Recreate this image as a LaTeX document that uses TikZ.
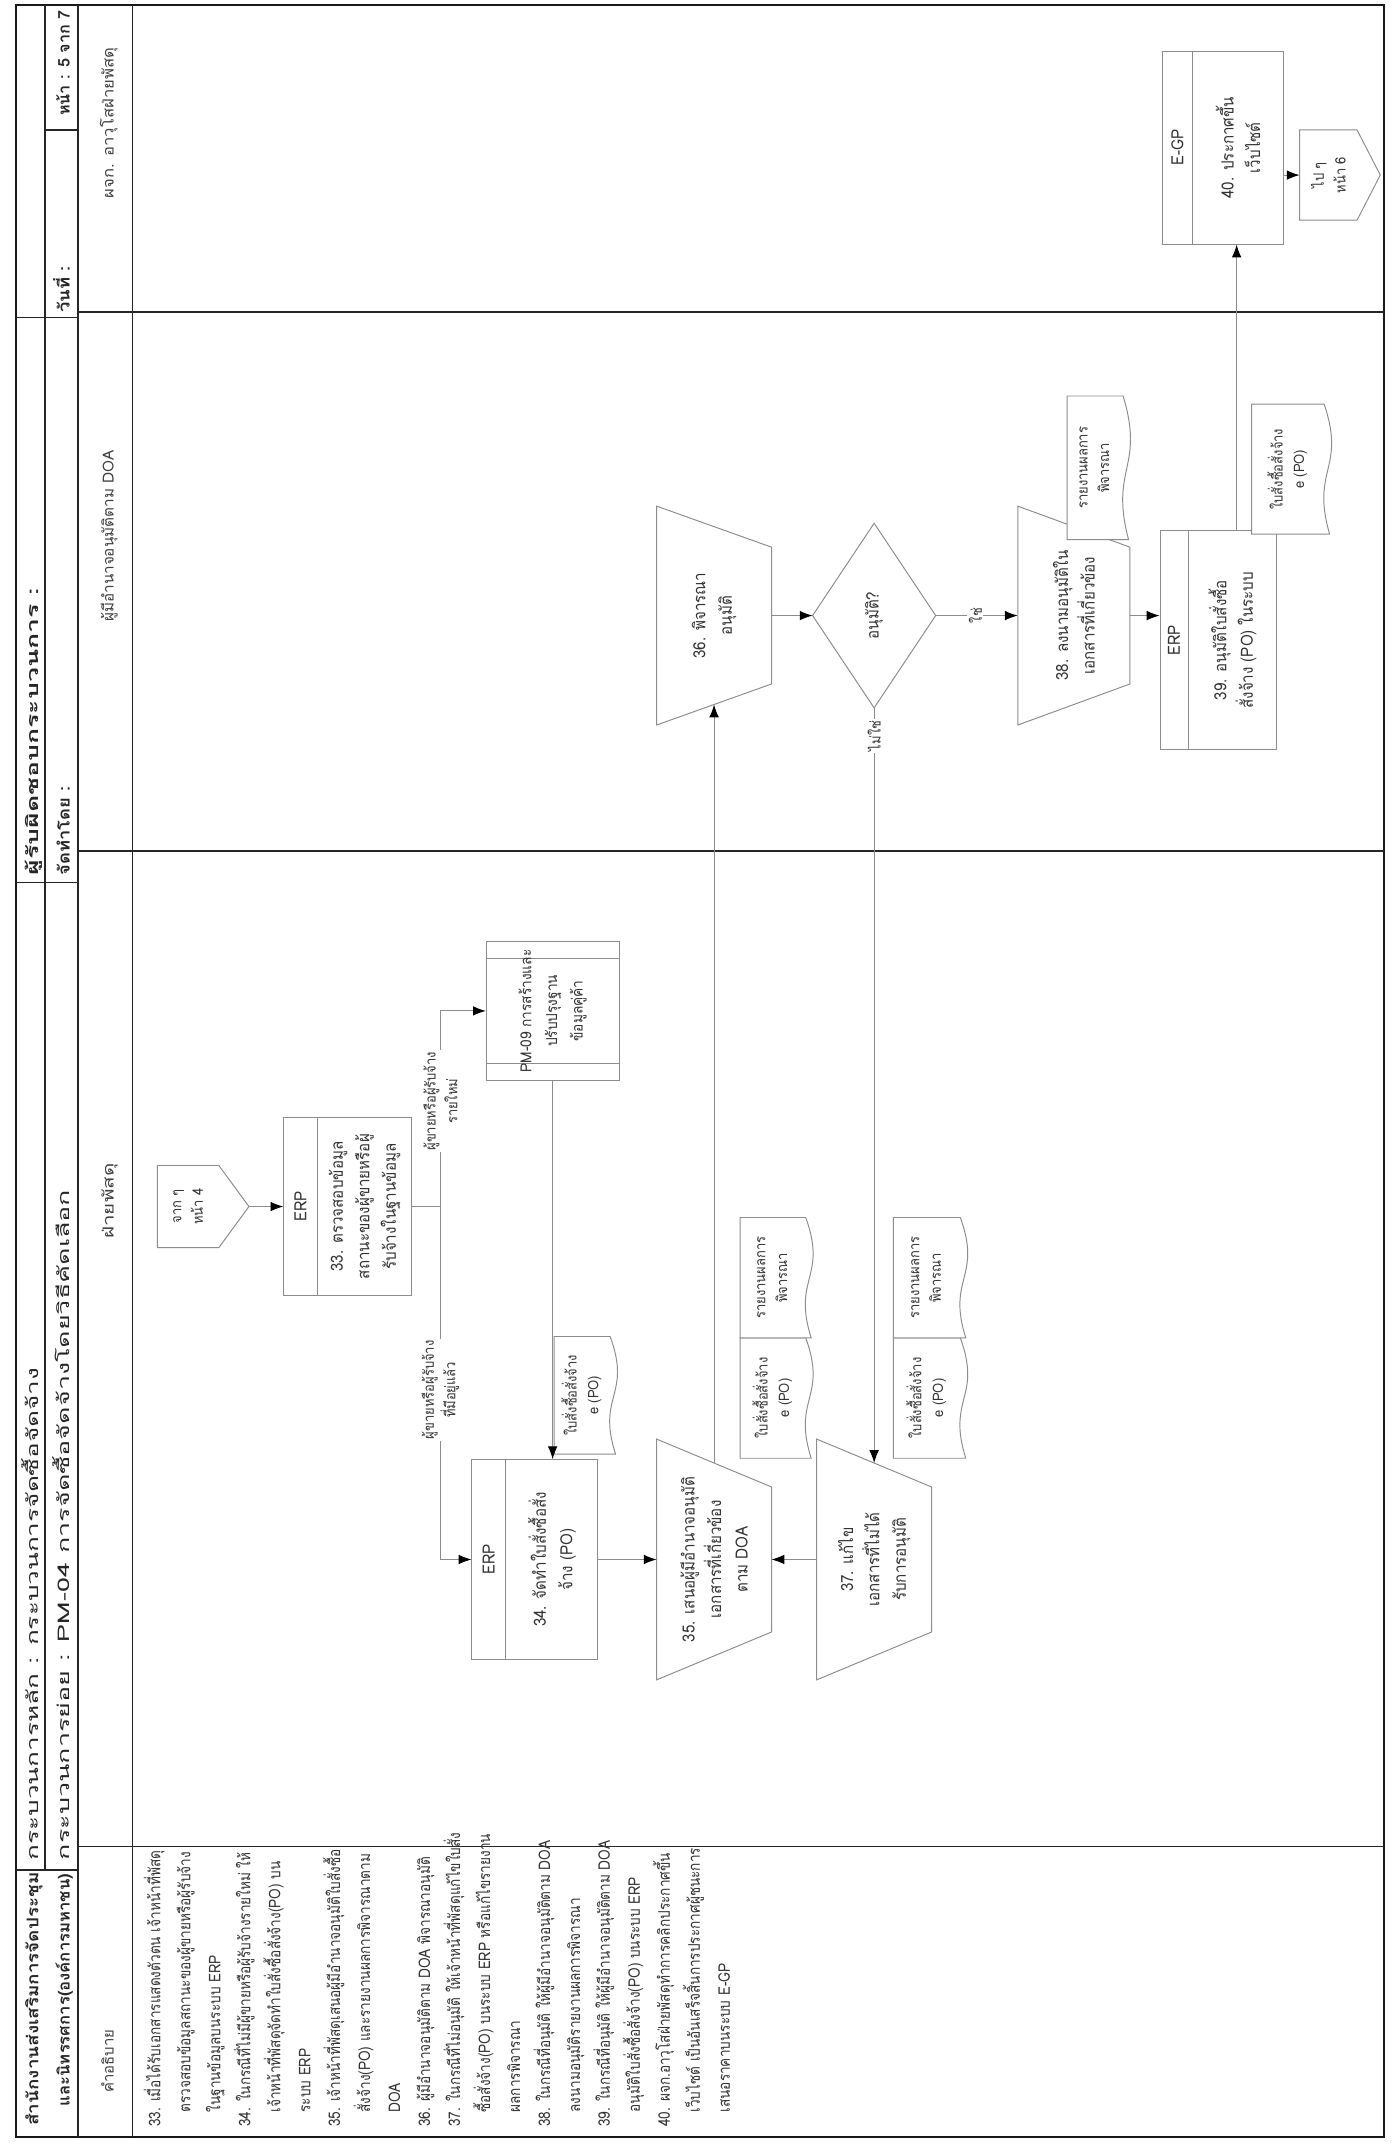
\documentclass[tikz,border=0pt]{standalone}
\usepackage{fontspec}
\setmainfont{Loma}[Script=Thai]
\newfontfamily\hdrfont{Loma}[Script=Thai]
\newfontfamily\flowfont{Loma}[Script=Thai, FakeStretch=0.9]
\newfontfamily\descfont{Loma}[Script=Thai, FakeStretch=0.85]
\usetikzlibrary{calc,arrows.meta}

% drawing unit
\newlength\ulen
\setlength\ulen{0.3mm}
% set a text to a given width (in drawing units), keeping its height
\newcommand\fitw[2]{\resizebox{#1\ulen}{\height}{#2}}

% process step with a system band on top: name, x, y, width, height, band, band label, text
\newcommand\stepbox[8]{%
  \node[shapeline, fill=white, inner sep=0pt, minimum width=#4\ulen, minimum height=#5\ulen] (#1) at (#2,#3) {};
  \draw[shapeline] ($(#1.north west)+(0,-#6)$) -- ($(#1.north east)+(0,-#6)$);
  \node[txt] at ($(#1.north)+(0,-#6/2)$) {#7};
  \node[txt] at ($(#1.center)+(0,-#6/2)$) {#8};
}
% manual operation, wide edge on top: name, x, y, top width, bottom width, height, text
\newcommand\manualop[7]{%
  \node[holder, minimum width=#4\ulen, minimum height=#6\ulen] (#1) at (#2,#3) {};
  \draw[shapeline] (#1.north west) -- (#1.north east)
     -- ($(#1.south east)+({-(#4-#5)/2},0)$) -- ($(#1.south west)+({(#4-#5)/2},0)$) -- cycle;
  \coordinate (#1-r) at ($(#1.east)+({-(#4-#5)/4},0)$);
  \coordinate (#1-l) at ($(#1.west)+({(#4-#5)/4},0)$);
  \node[txt] at (#1) {#7};
}
% document with a wavy lower edge: name, x, y, width, height, text
\newcommand\docshape[6]{%
  \node[holder, minimum width=#4\ulen, minimum height=#5\ulen] (#1) at (#2,#3) {};
  \draw[shapeline, fill=white] (#1.north west) -- (#1.north east) -- ($(#1.south east)+(0,7)$)
     .. controls ($(#1.south east)+({-#4/2},-9)$) and ($(#1.south west)+({#4/2},17)$) .. ($(#1.south west)+(0,3)$) -- cycle;
  \node[doctxt] at ($(#1.center)+(0,4)$) {#6};
}
% off-page connector pointing down: name, x, y, width, height, point depth, text
\newcommand\offpage[7]{%
  \node[holder, minimum width=#4\ulen, minimum height=#5\ulen] (#1) at (#2,#3) {};
  \draw[shapeline, fill=white] (#1.north west) -- (#1.north east) -- ($(#1.south east)+(0,#6)$)
     -- (#1.south) -- ($(#1.south west)+(0,#6)$) -- cycle;
  \node[doctxt] at ($(#1.center)+(0,#6/2)$) {#7};
}

\begin{document}
\begin{tikzpicture}[x=0.3mm, y=0.3mm,
  frameline/.style={draw=black!90, line width=1.2pt},
  cellline/.style={draw=black!85, line width=0.9pt},
  shapeline/.style={draw=black!45, line width=0.6pt},
  holder/.style={draw=none, inner sep=0pt, outer sep=0pt},
  txt/.style={font=\flowfont\fontsize{10.5}{16.5}\selectfont, align=center, inner sep=0pt, text=black!80},
  doctxt/.style={font=\flowfont\fontsize{9}{13.5}\selectfont, align=center, inner sep=0pt, text=black!80},
  conn/.style={draw=black!45, line width=0.6pt, -{Latex[length=8pt, width=6pt, black]}},
  wire/.style={draw=black!45, line width=0.6pt},
  flowlabel/.style={doctxt, fill=white, inner sep=1pt},
  hdr/.style={font=\hdrfont\fontsize{10}{11}\selectfont, anchor=base west, inner sep=0pt, text=black!85},
  lanetitle/.style={font=\fontsize{9.5}{11}\selectfont, anchor=base, inner sep=0pt, text=black!75},
  desc/.style={font=\descfont\fontsize{10}{18.7}\selectfont, align=left, anchor=north west, inner sep=0pt, text=black!80},
]
% the sheet is laid out in landscape and turned a quarter turn
\begin{scope}[rotate=90, transform shape]
\useasboundingbox (0,0) rectangle (1568,1017);
\fill[white] (0,0) rectangle (1568,1017);

% ---------- form frame and header ----------
\draw[frameline] (6,5) rectangle (1564,1005);
\draw[cellline] (6,960) -- (1564,960);
\draw[cellline] (6,920) -- (1564,920);
\draw[cellline] (201,984) -- (1564,984);
\foreach \x in {201,923,1336} \draw[cellline] (\x,960) -- (\x,1005);
\draw[cellline] (1473,960) -- (1473,984);
\foreach \x in {218,946,1340} \draw[cellline] (\x,5) -- (\x,960);

\node[hdr] (h1) at (14,989) {\fitw{185}{\bfseries สำนักงานส่งเสริมการจัดประชุม}};
\node[hdr] (h2) at (28,966) {\fitw{170}{\bfseries และนิทรรศการ(องค์การมหาชน)}};
\node[hdr] (h3) at (208,989) {\fitw{360}{กระบวนการหลัก : กระบวนการจัดซื้อจัดจ้าง}};
\node[hdr] (h4) at (208,966) {\fitw{490}{กระบวนการย่อย : PM-04 การจัดซื้อจัดจ้างโดยวิธีคัดเลือก}};
\node[hdr] (h5) at (928,989) {\fitw{210}{\bfseries ผู้รับผิดชอบกระบวนการ :}};
\node[hdr] (h6) at (928,966) {\fitw{65}{\bfseries จัดทำโดย :}};
\node[hdr] (h7) at (1339,966) {\fitw{34}{\bfseries วันที่ :}};
\node[hdr] (h8) at (1483,966) {\fitw{77}{\bfseries หน้า : 5 จาก 7}};

% lane titles
\node[lanetitle, anchor=base west] (l0) at (38,934) {\fitw{46}{คำอธิบาย}};
\node[lanetitle] (l1) at (690,934) {\fitw{55}{ฝ่ายพัสดุ}};
\node[lanetitle] (l2) at (1176,934) {\fitw{125}{ผู้มีอำนาจอนุมัติตาม DOA}};
\node[lanetitle] (l3) at (1478,934) {\fitw{110}{ผจก. อาวุโสฝ่ายพัสดุ}};

% ---------- description column ----------
\node[desc] (desc) at (13,912) {%
33. เมื่อได้รับเอกสารแสดงตัวตน เจ้าหน้าที่พัสดุ\\
\hspace*{9pt}ตรวจสอบข้อมูลสถานะของผู้ขายหรือผู้รับจ้าง\\
\hspace*{9pt}ในฐานข้อมูลบนระบบ ERP\\
34. ในกรณีที่ไม่มีผู้ขายหรือผู้รับจ้างรายใหม่ ให้\\
\hspace*{9pt}เจ้าหน้าที่พัสดุจัดทำใบสั่งซื้อสั่งจ้าง(PO) บน\\
\hspace*{9pt}ระบบ ERP\\
35. เจ้าหน้าที่พัสดุเสนอผู้มีอำนาจอนุมัติใบสั่งซื้อ\\
\hspace*{9pt}สั่งจ้าง(PO) และรายงานผลการพิจารณาตาม\\
\hspace*{9pt}DOA\\
36. ผู้มีอำนาจอนุมัติตาม DOA พิจารณาอนุมัติ\\
37. ในกรณีที่ไม่อนุมัติ ให้เจ้าหน้าที่พัสดุแก้ไขใบสั่ง\\
\hspace*{9pt}ซื้อสั่งจ้าง(PO) บนระบบ ERP หรือแก้ไขรายงาน\\
\hspace*{9pt}ผลการพิจารณา\\
38. ในกรณีที่อนุมัติ ให้ผู้มีอำนาจอนุมัติตาม DOA\\
\hspace*{9pt}ลงนามอนุมัติรายงานผลการพิจารณา\\
39. ในกรณีที่อนุมัติ ให้ผู้มีอำนาจอนุมัติตาม DOA\\
\hspace*{9pt}อนุมัติใบสั่งซื้อสั่งจ้าง(PO) บนระบบ ERP\\
40. ผจก.อาวุโสฝ่ายพัสดุทำการคลิกประกาศขึ้น\\
\hspace*{9pt}เว็บไซต์ เป็นอันเสร็จสิ้นการประกาศผู้ชนะการ\\
\hspace*{9pt}เสนอราคาบนระบบ E-GP};

% ---------- flow: procurement staff lane ----------
\offpage{c4}{686}{868.5}{60}{67}{22}{จาก ๆ\\หน้า 4}
\stepbox{b33}{686}{763}{130}{93}{25}{ERP}{33. ตรวจสอบข้อมูล\\สถานะของผู้ขายหรือผู้\\รับจ้างในฐานข้อมูล}

\node[shapeline, fill=white, inner sep=0pt, minimum width=102\ulen, minimum height=97\ulen] (pm09) at (829,613) {};
\draw[shapeline] ($(pm09.north west)+(13,0)$) -- ($(pm09.south west)+(13,0)$);
\draw[shapeline] ($(pm09.north east)+(-13,0)$) -- ($(pm09.south east)+(-13,0)$);
\node[txt, font=\flowfont\fontsize{9.5}{16}\selectfont] at (pm09) {PM-09 การสร้างและ\\ปรับปรุงฐาน\\ข้อมูลคู่ค้า};

\stepbox{b34}{428}{626}{146}{92}{25}{ERP}{34. จัดทำใบสั่งซื้อสั่ง\\จ้าง (PO)}
\docshape{d34}{548}{588}{86}{48}{ใบสั่งซื้อสั่งจ้าง\\e (PO)}

\manualop{t35}{428}{495}{176}{106}{84}{35. เสนอผู้มีอำนาจอนุมัติ\\เอกสารที่เกี่ยวข้อง\\ตาม DOA}
\docshape{dA1}{546}{448.5}{88}{55}{ใบสั่งซื้อสั่งจ้าง\\e (PO)}
\docshape{dA2}{634}{448.5}{88}{55}{รายงานผลการ\\พิจารณา}

\manualop{t37}{428}{378}{176}{106}{84}{37. แก้ไข\\เอกสารที่ไม่ได้\\รับการอนุมัติ}
\docshape{dB1}{546}{336}{88}{56}{ใบสั่งซื้อสั่งจ้าง\\e (PO)}
\docshape{dB2}{634}{336}{88}{56}{รายงานผลการ\\พิจารณา}

% ---------- flow: approver lane ----------
\manualop{t36}{1118}{495}{160}{100}{84}{36. พิจารณา\\อนุมัติ}
\node[holder, minimum width=135\ulen, minimum height=90\ulen] (dec) at (1118,378) {};
\draw[shapeline] (dec.north) -- (dec.east) -- (dec.south) -- (dec.west) -- cycle;
\node[txt] at (dec) {อนุมัติ?};
\manualop{t38}{1118}{232}{160}{100}{82}{38. ลงนามอนุมัติใน\\เอกสารที่เกี่ยวข้อง}
\docshape{d38}{1226}{213}{105}{48}{รายงานผลการ\\พิจารณา}
\stepbox{b39}{1100}{126.5}{160}{85}{21}{ERP}{39. อนุมัติใบสั่งซื้อ\\สั่งจ้าง (PO) ในระบบ}
\docshape{d39}{1225}{72}{95}{60}{ใบสั่งซื้อสั่งจ้าง\\e (PO)}

% ---------- flow: senior manager lane ----------
\stepbox{b40}{1460}{123}{141}{88}{22}{E-GP}{40. ประกาศขึ้น\\เว็บไซต์}
\offpage{c6}{1440}{37.5}{66}{59}{17}{ไป ๆ\\หน้า 6}

% ---------- connectors ----------
\coordinate (j) at (686,695);
\coordinate (jR) at (829,695);
\coordinate (jL) at (428,695);
\draw[conn] (c4.south) -- (b33.north);
\draw[wire] (b33.south) -- (j);
\draw[conn] (j) -- (jR) -- (pm09.north);
\draw[conn] (j) -- (jL) -- (b34.north);
\draw[conn] (pm09.west) -- ($(b34.east)+(0,-13)$);
\draw[conn] (b34.south) -- (t35.north);
\draw[conn] (t37.north) -- (t35.south);
\draw[conn] (t35-r) -- (t36-l);
\draw[conn] (t36.south) -- (dec.north);
\draw[conn] (dec.west) -- (t37-r);
\draw[conn] (dec.south) -- (t38.north);
\draw[conn] (t38.south) -- ($(b39.north)+(18,0)$);
\draw[conn] ($(b39.east)+(0,-13.5)$) -- ($(b40.west)+(0,-10)$);
\draw[conn] ($(b40.south)+(-20,0)$) -- (c6.north);

\node[flowlabel] (lbNew) at (763,695) {ผู้ขายหรือผู้รับจ้าง\\รายใหม่};
\node[flowlabel] (lbOld) at (552,695) {ผู้ขายหรือผู้รับจ้าง\\ที่มีอยู่แล้ว};
\node[flowlabel] (lbNo) at (1030,378) {ไม่ใช่};
\node[flowlabel] (lbYes) at (1118,304) {ใช่};
\end{scope}
\end{tikzpicture}
\end{document}
